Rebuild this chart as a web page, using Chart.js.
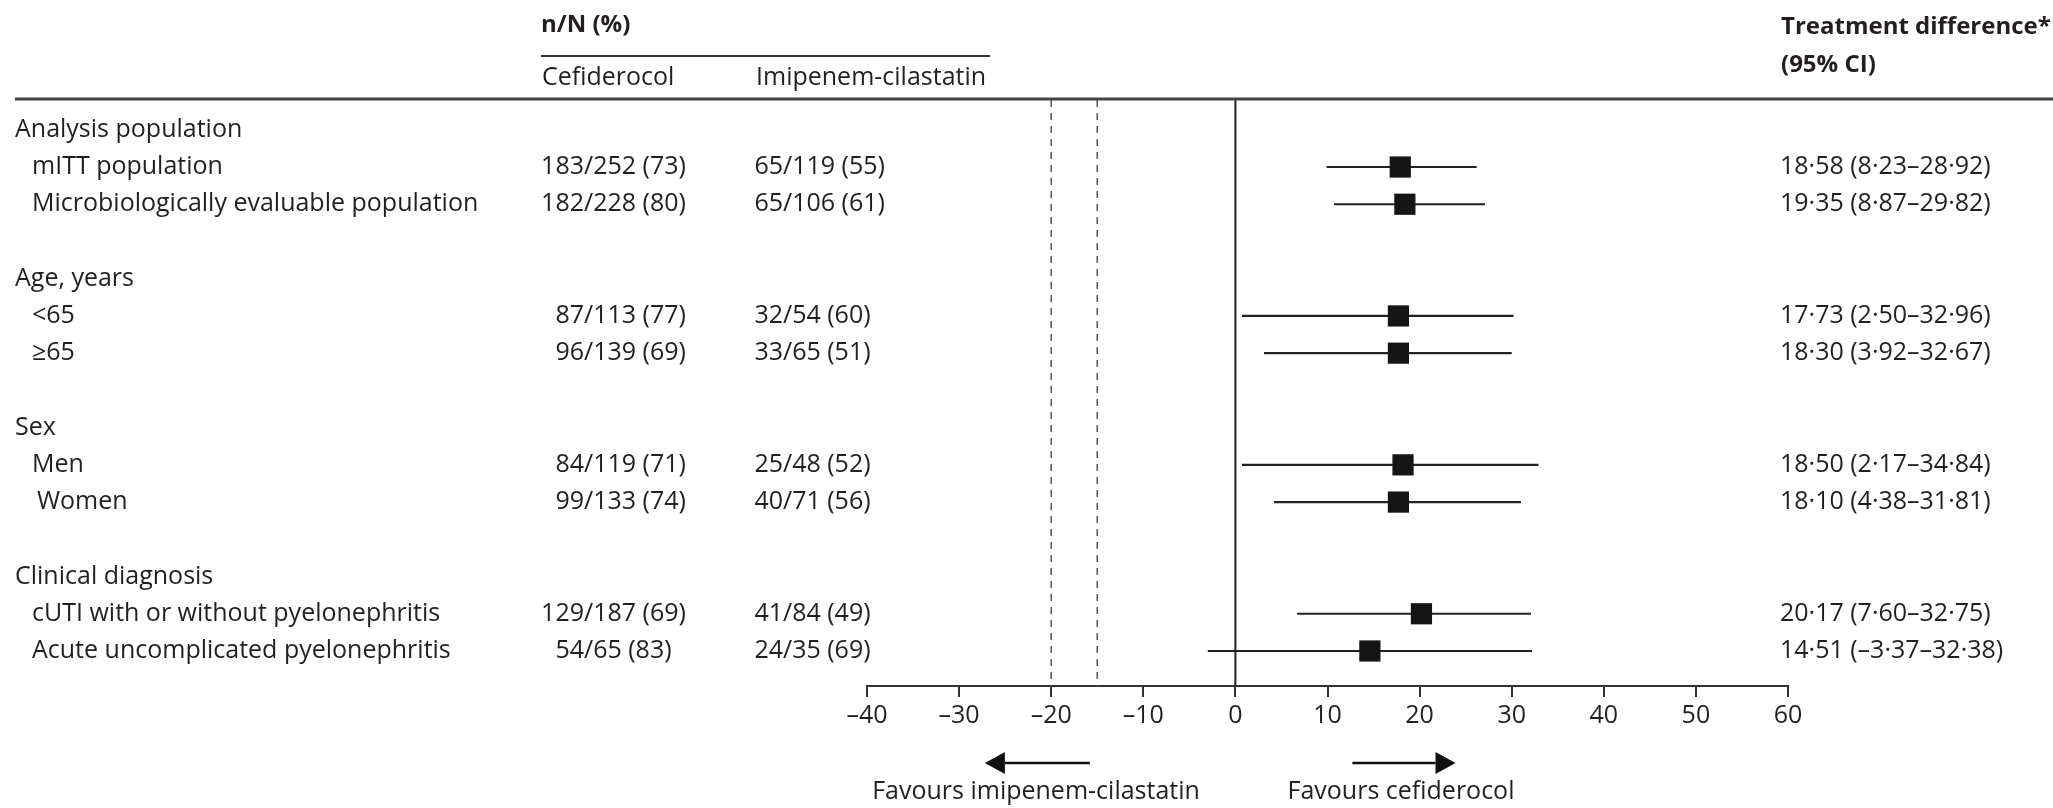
<!DOCTYPE html>
<html lang="en">
<head>
  <meta charset="UTF-8">
  <title>Cefiderocol vs imipenem-cilastatin forest plot</title>
  <script src="https://cdn.jsdelivr.net/npm/chart.js"></script>
  <style>
    body { margin: 0; background: #fff; }
    canvas { display: block; }
  </style>
</head>
<body>
  <canvas id="forest" width="2053" height="808"></canvas>

  <script>
    // rows of the table (one unit per row on the y scale, blank rows between groups)
    const groupTitles = ['Analysis population', 'Age, years', 'Sex', 'Clinical diagnosis'];
    const groupRows = [0, 4, 8, 12];

    const categories = ['mITT population', 'Microbiologically evaluable population', '<65', '≥65',
      'Men', 'Women', 'cUTI with or without pyelonephritis', 'Acute uncomplicated pyelonephritis'];
    const categoryRows = [1, 2, 5, 6, 9, 10, 13, 14];

    const cefiderocol = ['183/252 (73)', '182/228 (80)', '87/113 (77)', '96/139 (69)',
      '84/119 (71)', '99/133 (74)', '129/187 (69)', '54/65 (83)'];
    const imipenem = ['65/119 (55)', '65/106 (61)', '32/54 (60)', '33/65 (51)',
      '25/48 (52)', '40/71 (56)', '41/84 (49)', '24/35 (69)'];

    // point estimates and CI ends as drawn in the plot
    const estimates = [17.9, 18.4, 17.7, 17.7, 18.2, 17.7, 20.2, 14.6];
    const ciLow = [9.9, 10.7, 0.7, 3.1, 0.7, 4.2, 6.7, -3.0];
    const ciHigh = [26.2, 27.1, 30.2, 30.0, 32.9, 31.0, 32.1, 32.2];

    const diffLabels = ['18·58 (8·23–28·92)', '19·35 (8·87–29·82)', '17·73 (2·50–32·96)', '18·30 (3·92–32·67)',
      '18·50 (2·17–34·84)', '18·10 (4·38–31·81)', '20·17 (7·60–32·75)', '14·51 (–3·37–32·38)'];

    const xMin = -40, xMax = 60, xStep = 10;
    const marginLines = [-20, -15];
    const yTop = -0.8, yBottom = 14.94;

    const TEXT = '#231f20';
    const FONT = '"Open Sans", "Noto Sans", sans-serif';

    const ciSets = categories.map((c, i) => ({
      type: 'line',
      data: [{ x: ciLow[i], y: categoryRows[i] }, { x: ciHigh[i], y: categoryRows[i] }],
      borderColor: '#222',
      borderWidth: 2.2,
      pointRadius: 0
    }));

    const zeroLine = {
      type: 'line',
      data: [{ x: 0, y: yTop }, { x: 0, y: yBottom }],
      borderColor: '#222',
      borderWidth: 2,
      pointRadius: 0
    };

    const dashSets = marginLines.map(v => ({
      type: 'line',
      data: [{ x: v, y: yTop }, { x: v, y: yBottom }],
      borderColor: '#555',
      borderWidth: 1.5,
      borderDash: [7, 6],
      pointRadius: 0
    }));

    function drawArrow(ctx, x1, x2, y) {
      // shaft from x1 to head tip at x2
      const dir = x2 > x1 ? 1 : -1;
      const headLen = 20, headH = 11;
      ctx.beginPath();
      ctx.moveTo(x1, y);
      ctx.lineTo(x2 - dir * headLen, y);
      ctx.lineWidth = 2.5;
      ctx.strokeStyle = '#111';
      ctx.stroke();
      ctx.beginPath();
      ctx.moveTo(x2, y);
      ctx.lineTo(x2 - dir * headLen, y - headH);
      ctx.lineTo(x2 - dir * headLen, y + headH);
      ctx.closePath();
      ctx.fillStyle = '#111';
      ctx.fill();
    }

    function drawSplit(ctx, str, slashX, y) {
      const k = str.indexOf('/');
      ctx.textAlign = 'right';
      ctx.fillText(str.slice(0, k), slashX, y);
      ctx.textAlign = 'left';
      ctx.fillText(str.slice(k), slashX, y);
    }

    const tablePlugin = {
      id: 'tableText',
      afterDraw(chart) {
        const { ctx, scales: { x, y } } = chart;
        ctx.save();
        ctx.fillStyle = TEXT;
        ctx.textBaseline = 'middle';

        // header
        ctx.font = 'bold 24px ' + FONT;
        ctx.textAlign = 'left';
        ctx.fillText('n/N (%)', 541, 25);
        ctx.fillText('Treatment difference*', 1781, 27);
        ctx.fillText('(95% CI)', 1781, 65);

        ctx.font = '25px ' + FONT;
        ctx.fillText('Cefiderocol', 542, 78);
        ctx.fillText('Imipenem-cilastatin', 756, 78);

        ctx.strokeStyle = '#333';
        ctx.lineWidth = 2;
        ctx.beginPath();
        ctx.moveTo(541, 56);
        ctx.lineTo(990, 56);
        ctx.stroke();

        ctx.strokeStyle = '#444';
        ctx.lineWidth = 3;
        ctx.beginPath();
        ctx.moveTo(15, 99);
        ctx.lineTo(2053, 99);
        ctx.stroke();

        // group titles and rows
        ctx.fillStyle = TEXT;
        ctx.font = '25px ' + FONT;
        groupTitles.forEach((t, i) => {
          ctx.textAlign = 'left';
          ctx.fillText(t, 15, y.getPixelForValue(groupRows[i]));
        });
        categories.forEach((c, i) => {
          const py = y.getPixelForValue(categoryRows[i]);
          ctx.textAlign = 'left';
          ctx.fillText(c, c === 'Women' ? 37 : 32, py);
          drawSplit(ctx, cefiderocol[i], 584, py);
          drawSplit(ctx, imipenem[i], 783, py);
          ctx.textAlign = 'left';
          ctx.fillText(diffLabels[i], 1780, py);
        });

        // favours arrows
        const ay = 763;
        drawArrow(ctx, x.getPixelForValue(-15.8), x.getPixelForValue(-27.2), ay);
        drawArrow(ctx, x.getPixelForValue(12.7), x.getPixelForValue(23.9), ay);
        ctx.fillStyle = TEXT;
        ctx.font = '25px ' + FONT;
        ctx.textAlign = 'center';
        ctx.fillText('Favours imipenem-cilastatin', 1036, 792);
        ctx.fillText('Favours cefiderocol', 1401, 792);
        ctx.restore();
      }
    };

    new Chart(document.getElementById('forest'), {
      type: 'scatter',
      data: {
        datasets: [
          {
            type: 'scatter',
            data: estimates.map((v, i) => ({ x: v, y: categoryRows[i] })),
            pointStyle: 'rect',
            pointRadius: 15,
            pointHoverRadius: 15,
            backgroundColor: '#151515',
            borderWidth: 0
          },
          ...ciSets,
          zeroLine,
          ...dashSets
        ]
      },
      options: {
        responsive: false,
        animation: false,
        layout: { padding: { left: 867, right: 265, top: 100, bottom: 62 } },
        plugins: { legend: { display: false }, tooltip: { enabled: false } },
        scales: {
          x: {
            type: 'linear',
            min: xMin,
            max: xMax,
            afterFit: s => { s.height = 60; },
            ticks: {
              stepSize: xStep,
              color: TEXT,
              padding: 4,
              font: { family: 'Open Sans', size: 25 },
              callback: v => v < 0 ? '–' + Math.abs(v) : String(v)
            },
            grid: { drawOnChartArea: false, drawTicks: true, tickLength: 11, color: '#333', lineWidth: 2 },
            border: { display: true, color: '#333', width: 2 }
          },
          y: {
            type: 'linear',
            display: false,
            reverse: true,
            min: yTop,
            max: yBottom
          }
        }
      },
      plugins: [tablePlugin]
    });
  </script>
</body>
</html>
